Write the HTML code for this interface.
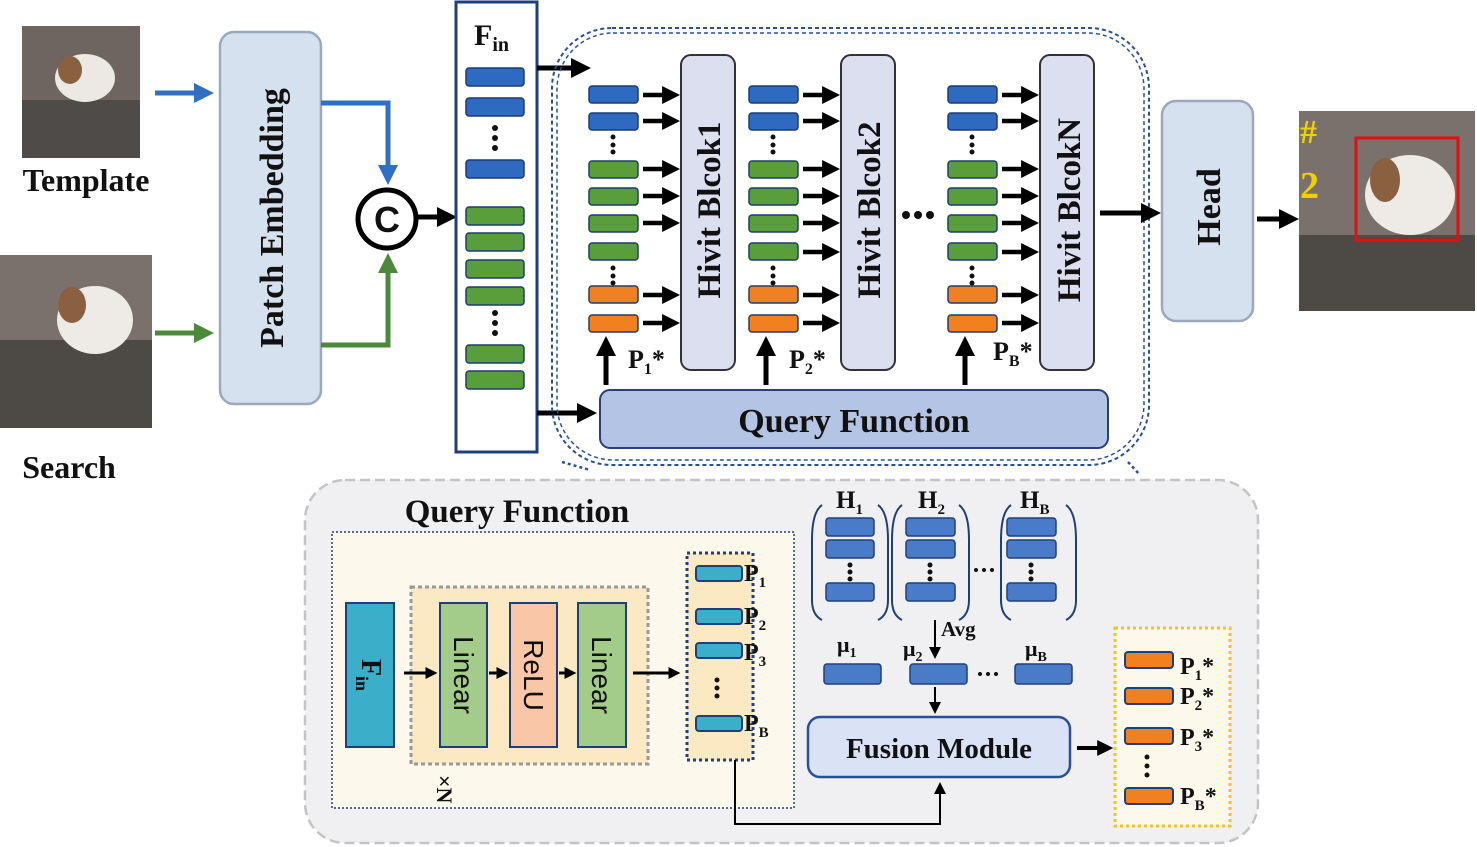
<!DOCTYPE html>
<html><head><meta charset="utf-8"><style>
body{margin:0;background:#fff}
svg{display:block}
text{font-family:"Liberation Serif",serif;font-weight:bold;fill:#111}
.s{font-family:"Liberation Sans",sans-serif;font-weight:normal}
</style></head><body>
<svg width="1477" height="847" viewBox="0 0 1477 847" xmlns="http://www.w3.org/2000/svg">
<defs>
<marker id="a" markerWidth="4" markerHeight="4" refX="2.2" refY="2" orient="auto" markerUnits="strokeWidth"><path d="M0,0 L4,2 L0,4 z" fill="#000"/></marker>
<marker id="ab" markerWidth="4" markerHeight="4" refX="2.2" refY="2" orient="auto" markerUnits="strokeWidth"><path d="M0,0 L4,2 L0,4 z" fill="#2f6fc4"/></marker>
<marker id="ag" markerWidth="4" markerHeight="4" refX="2.2" refY="2" orient="auto" markerUnits="strokeWidth"><path d="M0,0 L4,2 L0,4 z" fill="#4a8a3a"/></marker>
<marker id="at" markerWidth="6" markerHeight="6" refX="4" refY="3" orient="auto" markerUnits="strokeWidth"><path d="M0,0 L6,3 L0,6 z" fill="#000"/></marker>
</defs>

<!-- images -->
<rect x="22" y="26" width="118" height="132" fill="#6e6460"/>
<rect x="22" y="100" width="118" height="58" fill="#4f4b48"/>
<ellipse cx="85" cy="78" rx="30" ry="24" fill="#ece8e4"/>
<ellipse cx="70" cy="70" rx="12" ry="14" fill="#8a6040"/>
<text x="86" y="191" font-size="32" text-anchor="middle">Template</text>

<rect x="0" y="255" width="152" height="173" fill="#7a716c"/>
<rect x="0" y="340" width="152" height="88" fill="#4d4945"/>
<ellipse cx="95" cy="320" rx="38" ry="34" fill="#eeeae6"/>
<ellipse cx="72" cy="305" rx="14" ry="18" fill="#8a6040"/>
<text x="69" y="478" font-size="32" text-anchor="middle">Search</text>

<line x1="155" y1="93" x2="205" y2="93" stroke="#2f6fc4" stroke-width="5" marker-end="url(#ab)"/>
<line x1="155" y1="333" x2="205" y2="333" stroke="#4a8a3a" stroke-width="5" marker-end="url(#ag)"/>

<rect x="220" y="32" width="101" height="372" rx="14" fill="#d5e1ee" stroke="#9aaabb" stroke-width="2.5"/>
<text transform="translate(283,218) rotate(-90)" font-size="34" text-anchor="middle">Patch Embedding</text>

<polyline points="321,103 388,103 388,176" fill="none" stroke="#2f6fc4" stroke-width="5" marker-end="url(#ab)"/>
<polyline points="321,345 388,345 388,262" fill="none" stroke="#4a8a3a" stroke-width="5" marker-end="url(#ag)"/>
<circle cx="387" cy="219" r="29" fill="#fff" stroke="#000" stroke-width="5"/>
<text x="387" y="232" font-size="36" text-anchor="middle" class="s" style="font-weight:bold">C</text>
<line x1="417" y1="217" x2="448" y2="217" stroke="#000" stroke-width="5" marker-end="url(#a)"/>

<!-- Fin column -->
<rect x="456" y="2" width="81" height="450" fill="#fff" stroke="#1f3f7a" stroke-width="3"/>
<text x="474" y="45" font-size="30">F<tspan font-size="20" dy="6">in</tspan></text>
<g stroke="#1d3d70" stroke-width="1.5">
<rect x="466" y="68" width="58" height="18" rx="3" fill="#2e6ac0"/>
<rect x="466" y="98" width="58" height="18" rx="3" fill="#2e6ac0"/>
<rect x="466" y="160" width="58" height="18" rx="3" fill="#2e6ac0"/>
<rect x="466" y="207" width="58" height="18" rx="3" fill="#5a9e3c"/>
<rect x="466" y="233" width="58" height="18" rx="3" fill="#5a9e3c"/>
<rect x="466" y="260" width="58" height="18" rx="3" fill="#5a9e3c"/>
<rect x="466" y="287" width="58" height="18" rx="3" fill="#5a9e3c"/>
<rect x="466" y="345" width="58" height="18" rx="3" fill="#5a9e3c"/>
<rect x="466" y="371" width="58" height="18" rx="3" fill="#5a9e3c"/>
</g>
<g fill="#111"><circle cx="495" cy="128" r="3"/><circle cx="495" cy="138" r="3"/><circle cx="495" cy="148" r="3"/>
<circle cx="495" cy="313" r="3"/><circle cx="495" cy="323" r="3"/><circle cx="495" cy="333" r="3"/></g>

<line x1="537" y1="68" x2="582" y2="68" stroke="#000" stroke-width="5" marker-end="url(#a)"/>
<line x1="537" y1="413" x2="588" y2="413" stroke="#000" stroke-width="5" marker-end="url(#a)"/>

<!-- dashed region -->
<rect x="552" y="28" width="597" height="437" rx="60" fill="none" stroke="#2a4f9a" stroke-width="2" stroke-dasharray="4,3"/>
<rect x="557" y="33" width="587" height="427" rx="56" fill="none" stroke="#2a4f9a" stroke-width="1.5" stroke-dasharray="4,3"/>

<!-- Hivit columns -->
<g id="col">
<g stroke="#1d3d70" stroke-width="1.5">
<rect x="589" y="86" width="49" height="17" rx="3" fill="#2e6ac0"/>
<rect x="589" y="113" width="49" height="17" rx="3" fill="#2e6ac0"/>
<rect x="589" y="161" width="49" height="17" rx="3" fill="#5a9e3c"/>
<rect x="589" y="188" width="49" height="17" rx="3" fill="#5a9e3c"/>
<rect x="589" y="215" width="49" height="17" rx="3" fill="#5a9e3c"/>
<rect x="589" y="243" width="49" height="17" rx="3" fill="#5a9e3c"/>
<rect x="589" y="286" width="49" height="17" rx="3" fill="#f08020"/>
<rect x="589" y="315" width="49" height="17" rx="3" fill="#f08020"/>
</g>
<g fill="#111"><circle cx="613" cy="137" r="2.5"/><circle cx="613" cy="145" r="2.5"/><circle cx="613" cy="152" r="2.5"/>
<circle cx="613" cy="268" r="2.5"/><circle cx="613" cy="276" r="2.5"/><circle cx="613" cy="283" r="2.5"/></g>
<g stroke="#000" stroke-width="4.5" marker-end="url(#a)">
<line x1="643" y1="95" x2="672" y2="95"/><line x1="643" y1="121" x2="672" y2="121"/>
<line x1="643" y1="169" x2="672" y2="169"/><line x1="643" y1="196" x2="672" y2="196"/>
<line x1="643" y1="223" x2="672" y2="223"/>
<line x1="643" y1="295" x2="672" y2="295"/><line x1="643" y1="323" x2="672" y2="323"/>
</g>
<rect x="681" y="55" width="54" height="315" rx="10" fill="#dcdff0" stroke="#333" stroke-width="2"/>
<line x1="606" y1="385" x2="606" y2="345" stroke="#000" stroke-width="5" marker-end="url(#a)"/>
</g>
<g transform="translate(160,0)"><use href="#col"/></g>
<g transform="translate(359,0)"><use href="#col"/></g>
<g stroke="#000" stroke-width="4.5" marker-end="url(#a)">
<line x1="803" y1="252" x2="832" y2="252"/><line x1="1002" y1="252" x2="1031" y2="252"/>
</g>
<text transform="translate(720,210) rotate(-90)" font-size="33" text-anchor="middle">Hivit Blcok1</text>
<text transform="translate(880,210) rotate(-90)" font-size="33" text-anchor="middle">Hivit Blcok2</text>
<text transform="translate(1080,210) rotate(-90)" font-size="33" text-anchor="middle">Hivit BlcokN</text>
<text x="628" y="368" font-size="26">P<tspan font-size="16" dy="6">1</tspan><tspan dy="-6">*</tspan></text>
<text x="789" y="368" font-size="26">P<tspan font-size="16" dy="6">2</tspan><tspan dy="-6">*</tspan></text>
<text x="993" y="360" font-size="26">P<tspan font-size="16" dy="6">B</tspan><tspan dy="-6">*</tspan></text>
<g fill="#111"><circle cx="906" cy="215" r="4"/><circle cx="918" cy="215" r="4"/><circle cx="930" cy="215" r="4"/></g>

<rect x="600" y="390" width="508" height="58" rx="10" fill="#b4c4e4" stroke="#2a3f7a" stroke-width="2"/>
<text x="854" y="432" font-size="34" text-anchor="middle">Query Function</text>

<line x1="1100" y1="213" x2="1152" y2="213" stroke="#000" stroke-width="5" marker-end="url(#a)"/>
<rect x="1162" y="101" width="91" height="220" rx="14" fill="#d5e1ee" stroke="#9aaabb" stroke-width="2.5"/>
<text transform="translate(1220,207) rotate(-90)" font-size="34" text-anchor="middle">Head</text>
<line x1="1257" y1="219" x2="1290" y2="219" stroke="#000" stroke-width="5" marker-end="url(#a)"/>

<rect x="1299" y="111" width="176" height="200" fill="#7a716c"/>
<rect x="1299" y="235" width="176" height="76" fill="#4d4945"/>
<ellipse cx="1410" cy="195" rx="45" ry="40" fill="#eeeae6"/>
<ellipse cx="1385" cy="180" rx="15" ry="22" fill="#8a6040"/>
<rect x="1356" y="138" width="102" height="102" fill="none" stroke="#e01010" stroke-width="3"/>
<text x="1300" y="143" font-size="34" style="fill:#f0d000">#</text>
<text x="1300" y="198" font-size="38" style="fill:#f0d000">2</text>

<!-- connector dotted -->
<path d="M562,462 L590,470 M1128,462 L1140,475" stroke="#2a4f9a" stroke-width="2.5" stroke-dasharray="3,3"/>

<!-- bottom panel -->
<rect x="305" y="480" width="953" height="363" rx="40" fill="#f0f0f2" stroke="#c4c4c8" stroke-width="2.5" stroke-dasharray="10,5"/>
<text x="517" y="522" font-size="33" text-anchor="middle">Query Function</text>
<rect x="332" y="532" width="462" height="276" fill="#fdf8ec" stroke="#1f3f7a" stroke-width="1.5" stroke-dasharray="2,2"/>
<rect x="346" y="603" width="48" height="144" fill="#3bafc9" stroke="#1f3f7a" stroke-width="2"/>
<text transform="translate(362,675) rotate(90)" font-size="28" text-anchor="middle">F<tspan font-size="18" dy="6">in</tspan></text>
<rect x="411" y="587" width="237" height="177" fill="#fbe9c4" stroke="#999" stroke-width="3" stroke-dasharray="4,3"/>
<rect x="440" y="603" width="47" height="144" fill="#a3cc8a" stroke="#1f3f7a" stroke-width="2"/>
<rect x="510" y="603" width="47" height="144" fill="#f9c6a7" stroke="#1f3f7a" stroke-width="2"/>
<rect x="578" y="603" width="48" height="144" fill="#a3cc8a" stroke="#1f3f7a" stroke-width="2"/>
<text class="s" transform="translate(454,675) rotate(90)" font-size="28" text-anchor="middle">Linear</text>
<text class="s" transform="translate(524,675) rotate(90)" font-size="28" text-anchor="middle">ReLU</text>
<text class="s" transform="translate(592,675) rotate(90)" font-size="28" text-anchor="middle">Linear</text>
<g stroke="#000" stroke-width="3" marker-end="url(#a)">
<line x1="404" y1="673" x2="432" y2="673"/><line x1="489" y1="673" x2="503" y2="673"/>
<line x1="559" y1="673" x2="571" y2="673"/><line x1="633" y1="673" x2="675" y2="673"/>
</g>
<text transform="translate(437,775) rotate(90)" font-size="22">×N</text>

<rect x="687" y="553" width="66" height="207" fill="#fbe9c4" stroke="#1f3f7a" stroke-width="3" stroke-dasharray="3,3"/>
<g fill="#3bafc9" stroke="#1f3f7a" stroke-width="2">
<rect x="696" y="566" width="46" height="15" rx="3"/><rect x="696" y="609" width="46" height="15" rx="3"/>
<rect x="696" y="643" width="46" height="15" rx="3"/><rect x="696" y="716" width="46" height="15" rx="3"/></g>
<g fill="#111"><circle cx="717" cy="680" r="2.5"/><circle cx="717" cy="688" r="2.5"/><circle cx="717" cy="696" r="2.5"/></g>
<g font-size="24"><text x="744" y="581">P<tspan font-size="15" dy="6">1</tspan></text>
<text x="744" y="624">P<tspan font-size="15" dy="6">2</tspan></text>
<text x="744" y="660">P<tspan font-size="15" dy="6">3</tspan></text>
<text x="744" y="731">P<tspan font-size="15" dy="6">B</tspan></text></g>

<!-- H groups -->
<g fill="none" stroke="#1f3f7a" stroke-width="2">
<path d="M822,505 Q812,512 812,540 L812,600 Q812,615 822,620"/><path d="M878,505 Q888,512 888,540 L888,600 Q888,615 878,620"/>
<path d="M902,505 Q892,512 892,540 L892,600 Q892,615 902,620"/><path d="M959,505 Q969,512 969,540 L969,600 Q969,615 959,620"/>
<path d="M1011,505 Q1001,512 1001,540 L1001,600 Q1001,615 1011,620"/><path d="M1066,505 Q1076,512 1076,540 L1076,600 Q1076,615 1066,620"/>
</g>
<g fill="#4a7bc8" stroke="#1f3f7a" stroke-width="1.5">
<rect x="826" y="518" width="48" height="18" rx="3"/><rect x="826" y="540" width="48" height="18" rx="3"/><rect x="826" y="583" width="48" height="18" rx="3"/>
<rect x="906" y="518" width="49" height="18" rx="3"/><rect x="906" y="540" width="49" height="18" rx="3"/><rect x="906" y="583" width="49" height="18" rx="3"/>
<rect x="1007" y="518" width="49" height="18" rx="3"/><rect x="1007" y="540" width="49" height="18" rx="3"/><rect x="1007" y="583" width="49" height="18" rx="3"/>
<rect x="824" y="664" width="57" height="20" rx="3"/><rect x="910" y="664" width="57" height="20" rx="3"/><rect x="1015" y="664" width="57" height="20" rx="3"/>
</g>
<g fill="#111"><circle cx="850" cy="565" r="2.5"/><circle cx="850" cy="572" r="2.5"/><circle cx="850" cy="579" r="2.5"/>
<circle cx="930" cy="565" r="2.5"/><circle cx="930" cy="572" r="2.5"/><circle cx="930" cy="579" r="2.5"/>
<circle cx="1031" cy="565" r="2.5"/><circle cx="1031" cy="572" r="2.5"/><circle cx="1031" cy="579" r="2.5"/>
<circle cx="976" cy="570" r="2"/><circle cx="984" cy="570" r="2"/><circle cx="992" cy="570" r="2"/>
<circle cx="980" cy="674" r="2"/><circle cx="988" cy="674" r="2"/><circle cx="996" cy="674" r="2"/></g>
<g font-size="25"><text x="836" y="508">H<tspan font-size="15" dy="6">1</tspan></text>
<text x="918" y="508">H<tspan font-size="15" dy="6">2</tspan></text>
<text x="1020" y="508">H<tspan font-size="15" dy="6">B</tspan></text>
<text x="837" y="652" font-size="22">μ<tspan font-size="14" dy="5">1</tspan></text>
<text x="903" y="656" font-size="22">μ<tspan font-size="14" dy="5">2</tspan></text>
<text x="1025" y="656" font-size="22">μ<tspan font-size="14" dy="5">B</tspan></text>
<text x="941" y="636" font-size="21">Avg</text></g>
<line x1="935" y1="620" x2="935" y2="655" stroke="#000" stroke-width="2" marker-end="url(#at)"/>
<line x1="935" y1="687" x2="935" y2="710" stroke="#000" stroke-width="2" marker-end="url(#at)"/>

<rect x="808" y="717" width="262" height="60" rx="12" fill="#d9e3f5" stroke="#2a4f9a" stroke-width="2.5"/>
<text x="939" y="758" font-size="29" text-anchor="middle">Fusion Module</text>
<polyline points="735,760 735,824 940,824 940,786" fill="none" stroke="#000" stroke-width="2" marker-end="url(#at)"/>
<line x1="1077" y1="748" x2="1106" y2="748" stroke="#000" stroke-width="4" marker-end="url(#a)"/>

<rect x="1115" y="628" width="115" height="198" fill="#fdf8ec" stroke="#f5c030" stroke-width="3" stroke-dasharray="3,3"/>
<g fill="#f08020" stroke="#1f3f7a" stroke-width="2">
<rect x="1125" y="652" width="48" height="16" rx="3"/><rect x="1125" y="688" width="48" height="16" rx="3"/>
<rect x="1125" y="728" width="48" height="16" rx="3"/><rect x="1125" y="788" width="48" height="16" rx="3"/></g>
<g fill="#111"><circle cx="1147" cy="757" r="2.5"/><circle cx="1147" cy="766" r="2.5"/><circle cx="1147" cy="775" r="2.5"/></g>
<g font-size="24"><text x="1180" y="674">P<tspan font-size="15" dy="6">1</tspan><tspan dy="-6">*</tspan></text>
<text x="1180" y="704">P<tspan font-size="15" dy="6">2</tspan><tspan dy="-6">*</tspan></text>
<text x="1180" y="745">P<tspan font-size="15" dy="6">3</tspan><tspan dy="-6">*</tspan></text>
<text x="1180" y="804">P<tspan font-size="15" dy="6">B</tspan><tspan dy="-6">*</tspan></text></g>
</svg>
</body></html>
